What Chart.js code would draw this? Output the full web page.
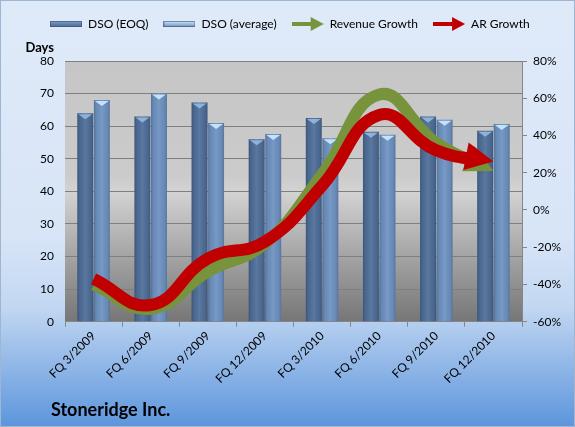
<!DOCTYPE html>
<html>
<head>
<meta charset="utf-8">
<script src="https://cdn.jsdelivr.net/npm/chart.js@4/dist/chart.umd.min.js"></script>
<style>
  html, body { margin: 0; padding: 0; background: #fff; }
  #wrap { width: 575px; height: 427px; }
</style>
</head>
<body>
<div id="wrap"><canvas id="dsoChart" width="575" height="427"></canvas></div>
<script>
const quarters = ['FQ 3/2009', 'FQ 6/2009', 'FQ 9/2009', 'FQ 12/2009', 'FQ 3/2010', 'FQ 6/2010', 'FQ 9/2010', 'FQ 12/2010'];
const dsoEoq = [64, 63, 67.3, 56, 62.5, 58.3, 63, 58.6];
const dsoAvg = [68, 70, 61, 57.6, 56.3, 57.4, 62, 60.7];
const revenueGrowth = [-40, -53, -33, -18, 19, 62, 36, 21];
const arGrowth = [-37, -51, -26, -17, 13, 51, 32, 26];
const daysTicks = [0, 10, 20, 30, 40, 50, 60, 70, 80];
const growthTicks = [-60, -40, -20, 0, 20, 40, 60, 80];

const FONT = 'Lato';
const HEAD_LEN = 28;
const HEAD_HALF = 14;

// little legend swatches
function barSwatch(top, bottom) {
    const c = document.createElement('canvas');
    c.width = 32; c.height = 6;
    const g = c.getContext('2d');
    const grad = g.createLinearGradient(0, 0, 0, 6);
    grad.addColorStop(0, top);
    grad.addColorStop(1, bottom);
    g.fillStyle = grad;
    g.fillRect(0, 0, 32, 6);
    g.strokeStyle = 'rgba(60,80,110,0.6)';
    g.strokeRect(0.5, 0.5, 31, 5);
    return c;
}

function arrowSwatch(color) {
    const c = document.createElement('canvas');
    c.width = 32; c.height = 14;
    const g = c.getContext('2d');
    g.fillStyle = color;
    g.fillRect(0, 5, 21, 4);
    g.beginPath();
    g.moveTo(19, 0); g.lineTo(32, 7); g.lineTo(19, 14);
    g.closePath();
    g.fill();
    return c;
}

function arrowGeom(meta) {
    const pts = meta.data;
    const p = pts[pts.length - 1];
    const prev = pts[pts.length - 2];
    let dx = p.x - (p.cp1x !== undefined ? p.cp1x : prev.x);
    let dy = p.y - (p.cp1y !== undefined ? p.cp1y : prev.y);
    const len = Math.hypot(dx, dy) || 1;
    return { p: p, dx: dx / len, dy: dy / len };
}

const backdrop = {
    id: 'backdrop',
    beforeUpdate(chart) {
        // leave room between the legend and the plot
        const lg = chart.legend;
        if (lg && !lg._padded) {
            const fit = lg.fit;
            lg.fit = function () { fit.call(this); this.height += 21; };
            lg._padded = true;
        }
    },
    beforeDraw(chart) {
        const ctx = chart.ctx;
        const { width, height, chartArea: a } = chart;
        const outer = ctx.createLinearGradient(0, 0, 0, height);
        outer.addColorStop(0, '#dfeaf9');
        outer.addColorStop(0.55, '#d8e5f7');
        outer.addColorStop(0.72, '#c2d7f2');
        outer.addColorStop(1, '#5c95dc');
        ctx.save();
        ctx.fillStyle = outer;
        ctx.fillRect(0, 0, width, height);
        ctx.strokeStyle = '#9fb6d3';
        ctx.strokeRect(0.5, 0.5, width - 1, height - 1);
        const inner = ctx.createLinearGradient(0, a.top, 0, a.bottom);
        inner.addColorStop(0, '#c6c6c6');
        inner.addColorStop(0.44, '#cbcbcb');
        inner.addColorStop(0.5, '#d3d3d3');
        inner.addColorStop(0.75, '#a4a4a4');
        inner.addColorStop(1, '#767676');
        ctx.fillStyle = inner;
        ctx.fillRect(a.left, a.top, a.right - a.left, a.bottom - a.top);
        ctx.restore();
    },
    afterDraw(chart) {
        const ctx = chart.ctx;
        ctx.save();
        ctx.fillStyle = '#000';
        ctx.font = 'bold 13px ' + FONT;
        ctx.textAlign = 'right';
        ctx.textBaseline = 'middle';
        ctx.fillText('Days', 54, 48);
        ctx.font = 'bold 18px ' + FONT;
        ctx.textAlign = 'left';
        ctx.textBaseline = 'alphabetic';
        ctx.fillText('Stoneridge Inc.', 51, 416);
        ctx.restore();
    }
};

// cylinder-ish shading and caps on the bars
const barShine = {
    id: 'barShine',
    afterDatasetDraw(chart, args) {
        if (args.meta.type !== 'bar') return;
        const ctx = chart.ctx;
        const capColor = args.index === 0 ? 'rgba(150,185,225,0.9)' : 'rgba(200,230,252,0.95)';
        ctx.save();
        args.meta.data.forEach(bar => {
            const w = bar.width, left = bar.x - w / 2, top = bar.y, h = bar.base - bar.y;
            const g = ctx.createLinearGradient(left, 0, left + w, 0);
            g.addColorStop(0, 'rgba(0,0,0,0.22)');
            g.addColorStop(0.15, 'rgba(0,0,0,0.05)');
            g.addColorStop(0.5, 'rgba(255,255,255,0.08)');
            g.addColorStop(0.85, 'rgba(0,0,0,0.05)');
            g.addColorStop(1, 'rgba(0,0,0,0.2)');
            ctx.fillStyle = g;
            ctx.fillRect(left, top, w, h);
            ctx.fillStyle = capColor;
            ctx.beginPath();
            ctx.moveTo(left + 1, top + 1);
            ctx.lineTo(left + w - 1, top + 1);
            ctx.lineTo(bar.x, top + 6);
            ctx.closePath();
            ctx.fill();
        });
        ctx.restore();
    }
};

// growth lines end in arrow heads
const arrowHeads = {
    id: 'arrowHeads',
    beforeDatasetDraw(chart, args) {
        if (args.meta.type !== 'line') return;
        const { p, dx, dy } = arrowGeom(args.meta);
        const ctx = chart.ctx;
        const bx = p.x - dx * (HEAD_LEN - 3), by = p.y - dy * (HEAD_LEN - 3);
        const nx = -dy, ny = dx;
        ctx.save();
        ctx.beginPath();
        ctx.moveTo(bx + nx * 2000, by + ny * 2000);
        ctx.lineTo(bx + nx * 2000 - dx * 4000, by + ny * 2000 - dy * 4000);
        ctx.lineTo(bx - nx * 2000 - dx * 4000, by - ny * 2000 - dy * 4000);
        ctx.lineTo(bx - nx * 2000, by - ny * 2000);
        ctx.closePath();
        ctx.clip();
    },
    afterDatasetDraw(chart, args) {
        if (args.meta.type !== 'line') return;
        const ctx = chart.ctx;
        ctx.restore();
        const { p, dx, dy } = arrowGeom(args.meta);
        const bx = p.x - dx * HEAD_LEN, by = p.y - dy * HEAD_LEN;
        const nx = -dy, ny = dx;
        ctx.save();
        ctx.fillStyle = chart.data.datasets[args.index].borderColor;
        ctx.beginPath();
        ctx.moveTo(p.x, p.y);
        ctx.lineTo(bx + nx * HEAD_HALF, by + ny * HEAD_HALF);
        ctx.lineTo(bx - nx * HEAD_HALF, by - ny * HEAD_HALF);
        ctx.closePath();
        ctx.fill();
        ctx.restore();
    }
};

const ctx = document.getElementById('dsoChart').getContext('2d');
const dsoChart = new Chart(ctx, {
    type: 'bar',
    data: {
        labels: quarters,
        datasets: [
            {
                label: 'DSO (EOQ)',
                data: dsoEoq,
                backgroundColor: '#4d6d98',
                yAxisID: 'y',
                order: 2,
                barPercentage: 0.96,
                categoryPercentage: 0.58,
                pointStyle: barSwatch('#7d9cc6', '#4a6a95')
            },
            {
                label: 'DSO (average)',
                data: dsoAvg,
                backgroundColor: '#6d91c1',
                yAxisID: 'y',
                order: 3,
                barPercentage: 0.96,
                categoryPercentage: 0.58,
                pointStyle: barSwatch('#cfe6fa', '#6d91c1')
            },
            {
                type: 'line',
                label: 'Revenue Growth',
                data: revenueGrowth,
                borderColor: '#77933c',
                borderWidth: 12,
                tension: 0.45,
                pointRadius: 0,
                yAxisID: 'y1',
                order: 1,
                pointStyle: arrowSwatch('#77933c')
            },
            {
                type: 'line',
                label: 'AR Growth',
                data: arGrowth,
                borderColor: '#c00000',
                borderWidth: 12,
                tension: 0.45,
                pointRadius: 0,
                yAxisID: 'y1',
                order: 0,
                pointStyle: arrowSwatch('#c00000')
            }
        ]
    },
    options: {
        responsive: false,
        animation: false,
        layout: { padding: { left: 35, right: 8, top: 3, bottom: 39 } },
        scales: {
            x: {
                grid: { drawOnChartArea: false, color: '#868686', tickLength: 5, offset: true },
                border: { color: '#868686' },
                ticks: { color: '#000', font: { family: FONT, size: 12 }, maxRotation: 45, minRotation: 45, padding: 2 }
            },
            y: {
                position: 'left',
                min: daysTicks[0],
                max: daysTicks[daysTicks.length - 1],
                afterBuildTicks: axis => { axis.ticks = daysTicks.map(v => ({ value: v })); },
                afterFit: axis => { axis.width = 30; },
                grid: { color: '#7f7f7f', drawTicks: false },
                border: { display: false },
                ticks: { color: '#000', font: { family: FONT, size: 12 }, padding: 11 }
            },
            y1: {
                position: 'right',
                min: growthTicks[0],
                max: growthTicks[growthTicks.length - 1],
                afterBuildTicks: axis => { axis.ticks = growthTicks.map(v => ({ value: v })); },
                grid: { drawOnChartArea: false, color: '#868686', tickLength: 5 },
                border: { color: '#868686' },
                ticks: { color: '#000', font: { family: FONT, size: 12 }, padding: 6, callback: v => v + '%' }
            }
        },
        plugins: {
            legend: {
                align: 'start',
                labels: {
                    usePointStyle: true,
                    pointStyleWidth: 32,
                    padding: 15,
                    color: '#000',
                    font: { family: FONT, size: 12 },
                    sort: (a, b) => a.datasetIndex - b.datasetIndex
                }
            },
            tooltip: { enabled: false }
        }
    },
    plugins: [backdrop, barShine, arrowHeads]
});
</script>
</body>
</html>
